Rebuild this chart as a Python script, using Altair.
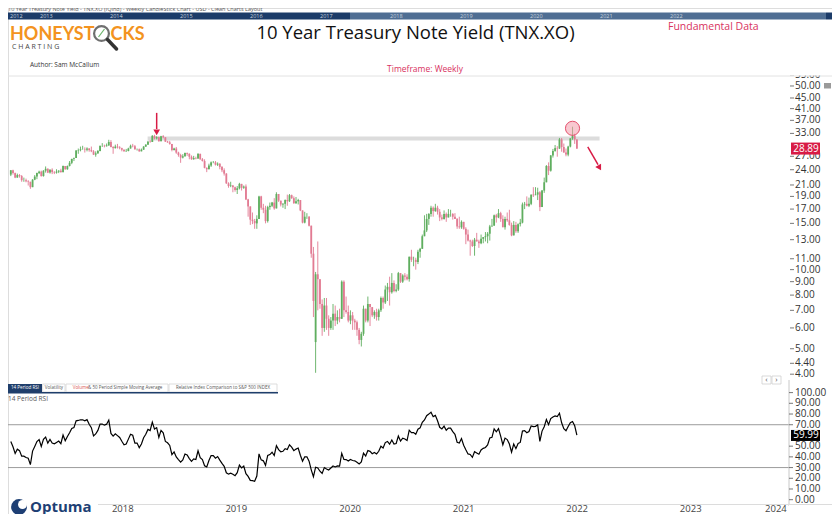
import altair as alt
import numpy as np
import pandas as pd

# ---------------- data: 10 Year Treasury Note Yield (TNX = yield x 10), weekly candles (weeks ending Friday)
first_week = "2017-03-03"

close_2017 = [24.9, 25.8, 25.0, 24.1, 23.9, 23.8, 22.4, 22.4, 22.9, 23.5, 23.3, 22.4, 22.5, 21.6, 22.0, 21.5, 21.4, 23.0,
              23.9, 23.3, 22.4, 22.9, 22.7, 21.9, 21.9, 21.7, 21.6, 20.6, 22.0, 22.6, 23.3, 23.6, 22.7, 23.8, 24.2,
              23.4, 24.0, 23.5, 23.4, 23.6, 23.8, 23.5, 24.8, 24.1]
high_2017 = [25.3, 26.1, 26.2, 25.1, 24.2, 24.1, 23.8, 22.6, 23.5, 23.6, 24.1, 23.4, 22.9, 22.4, 22.1, 22.1, 21.8, 23.2,
             23.9, 24.0, 23.4, 23.2, 23.1, 22.9, 22.4, 22.2, 21.9, 21.3, 22.1, 22.9, 23.4, 23.8, 23.8, 23.9, 24.7,
             24.3, 24.1, 24.3, 23.7, 24.1, 23.9, 24.2, 24.9, 24.8]
low_2017 = [23.5, 24.8, 24.8, 23.9, 23.5, 22.9, 22.3, 21.7, 22.3, 22.7, 23.1, 22.0, 22.3, 21.5, 21.3, 20.9, 21.2, 21.3,
            22.7, 23.0, 22.3, 22.4, 22.4, 21.6, 21.6, 21.5, 20.9, 20.3, 20.7, 21.9, 22.1, 23.1, 22.6, 22.6, 23.4,
            23.3, 23.2, 23.1, 23.1, 23.2, 23.3, 23.4, 23.5, 24.0]

close_2018 = [24.8, 25.5, 26.4, 26.6, 28.4, 28.5, 28.7, 28.7, 28.6, 28.9, 28.5, 28.2, 27.4, 27.7, 28.3, 29.6, 29.6,
              29.5, 29.7, 30.6, 29.3, 29.0, 29.4, 29.2, 29.0, 28.6, 28.2, 28.3, 28.9, 29.6, 29.5, 28.7, 28.7, 28.2,
              28.6, 29.4, 29.9, 30.7, 30.6, 32.3, 31.6, 31.9, 30.8, 32.2, 31.9, 30.7, 30.5, 30.1, 28.5, 28.9, 27.9, 27.3]
high_2018 = [24.9, 25.9, 26.4, 26.7, 28.5, 28.9, 29.4, 29.6, 29.2, 29.2, 29.0, 29.4, 28.5, 28.2, 28.5, 29.6, 30.3,
             29.9, 30.2, 31.2, 31.1, 29.5, 29.9, 30.1, 29.5, 29.1, 28.7, 28.8, 29.1, 29.9, 30.1, 29.8, 28.9, 28.9,
             28.9, 29.5, 30.0, 30.9, 31.1, 32.5, 32.6, 32.2, 32.1, 32.3, 32.5, 31.9, 30.9, 30.9, 30.0, 29.1, 29.3, 28.1]
low_2018 = [24.0, 24.7, 25.2, 25.9, 26.6, 27.6, 28.2, 28.6, 27.9, 28.2, 28.1, 28.0, 27.3, 26.9, 27.6, 28.2, 29.3,
            29.2, 29.4, 29.6, 29.2, 27.6, 28.9, 28.9, 28.7, 28.2, 28.1, 28.1, 28.2, 28.9, 29.2, 28.6, 28.4, 28.1,
            28.3, 28.6, 29.3, 29.9, 30.4, 30.6, 31.3, 31.3, 30.7, 30.8, 31.6, 30.6, 30.4, 29.9, 28.2, 28.4, 27.6, 26.9]

close_2019 = [26.7, 27.0, 27.8, 27.6, 26.9, 26.3, 26.6, 26.5, 27.6, 26.3, 25.9, 24.4, 24.1, 24.9, 25.6, 25.6, 25.1,
              25.3, 24.6, 23.9, 23.2, 21.3, 20.8, 20.9, 20.6, 20.1, 20.4, 21.2, 20.5, 20.7, 18.5, 17.4, 15.5, 15.3,
              15.0, 15.6, 19.0, 17.2, 16.9, 15.3, 17.3, 17.5, 18.0, 17.1, 19.4, 18.3, 17.7, 17.8, 18.4, 18.2, 19.2, 18.7]
high_2019 = [27.6, 27.5, 27.9, 27.9, 27.7, 27.2, 27.1, 26.9, 27.7, 27.5, 26.6, 26.3, 24.5, 25.3, 25.8, 25.9, 25.9,
             25.6, 25.4, 24.8, 24.3, 23.3, 21.5, 21.6, 21.0, 20.7, 20.8, 21.4, 21.2, 20.9, 21.1, 18.6, 17.4, 16.5,
             15.6, 16.1, 19.1, 19.1, 17.8, 17.5, 17.5, 18.0, 18.1, 18.7, 19.7, 19.4, 18.3, 17.9, 18.5, 19.3, 19.4, 19.3]
low_2019 = [25.5, 26.5, 26.9, 27.1, 26.3, 26.2, 26.2, 26.3, 26.4, 26.2, 25.8, 24.3, 23.5, 24.1, 24.6, 25.4, 24.9,
            24.8, 24.1, 23.5, 22.8, 21.2, 20.5, 20.6, 19.7, 19.8, 19.4, 20.2, 20.0, 20.3, 18.4, 15.9, 14.8, 14.9,
            14.3, 14.3, 15.6, 16.9, 16.4, 15.0, 15.1, 16.9, 17.3, 16.9, 17.1, 18.1, 17.4, 17.2, 17.0, 17.5, 18.1, 18.6]

close_2020 = [17.9, 18.2, 18.4, 16.8, 15.1, 15.9, 15.9, 14.7, 11.5, 7.6, 9.6, 9.2, 7.4, 6.0, 7.3, 6.5, 6.0,
              6.4, 6.8, 6.4, 6.6, 6.5, 9.0, 7.0, 6.9, 6.4, 6.7, 6.4, 6.3, 5.9, 5.4, 5.7, 7.1, 6.4, 7.4,
              7.2, 6.7, 6.9, 6.6, 7.0, 7.8, 7.5, 8.4, 8.6, 8.2, 8.9, 8.3, 8.4, 9.7, 9.0, 9.5, 9.4]
high_2020 = [19.0, 18.9, 18.6, 18.3, 16.8, 16.6, 16.4, 16.0, 14.4, 12.2, 9.8, 12.8, 9.0, 7.7, 7.8, 7.8, 6.7,
             6.6, 7.4, 7.3, 7.0, 7.1, 9.1, 9.1, 7.9, 7.3, 7.0, 6.9, 6.5, 6.4, 6.0, 5.8, 7.3, 7.1, 7.9,
             7.3, 7.2, 7.0, 7.1, 7.1, 7.9, 7.9, 8.7, 8.9, 9.4, 9.7, 9.1, 8.8, 9.8, 9.7, 9.6, 9.7]
low_2020 = [17.8, 17.8, 17.7, 16.7, 15.0, 15.0, 15.6, 14.6, 11.1, 6.6, 4.05, 7.0, 7.1, 5.6, 5.8, 5.9, 5.6,
            5.9, 5.9, 6.1, 6.2, 6.3, 6.5, 6.6, 6.8, 6.3, 6.2, 5.9, 5.9, 5.6, 5.2, 5.1, 5.6, 6.3, 6.3,
            6.1, 6.6, 6.5, 6.4, 6.4, 6.9, 7.1, 7.4, 7.6, 7.3, 8.1, 8.2, 8.2, 8.3, 8.9, 8.9, 9.1]

close_2021 = [9.2, 11.2, 10.9, 10.9, 10.7, 11.7, 12.0, 13.4, 14.1, 15.6, 16.3, 17.2, 16.7, 17.2, 16.6, 15.8, 15.6,
              16.3, 15.8, 16.3, 16.3, 15.9, 15.6, 14.6, 14.5, 15.2, 14.3, 13.6, 12.9, 12.8, 12.3, 13.0, 12.8, 12.6,
              13.1, 13.3, 13.4, 13.7, 14.6, 14.7, 16.1, 15.8, 16.4, 15.6, 14.5, 15.6, 15.4, 14.8, 13.5, 14.8, 14.0,
              14.9, 15.1]
high_2021 = [9.6, 11.2, 11.9, 11.2, 11.1, 11.9, 12.1, 13.6, 16.1, 16.3, 16.4, 17.5, 17.4, 17.8, 17.5, 17.0, 16.2,
             16.8, 16.5, 17.0, 16.9, 16.4, 16.4, 15.7, 15.9, 15.4, 15.1, 14.5, 14.2, 13.0, 13.0, 13.2, 13.8, 13.0,
             13.6, 13.3, 13.9, 13.9, 14.8, 15.6, 16.2, 16.3, 17.0, 16.6, 16.1, 15.9, 16.5, 16.9, 15.1, 15.3, 15.2,
             15.0, 15.6]
low_2021 = [9.1, 9.0, 10.7, 10.3, 10.0, 10.5, 11.1, 12.0, 13.4, 13.9, 14.8, 15.9, 15.9, 16.6, 16.2, 15.3, 15.4,
            15.5, 15.2, 15.8, 15.9, 15.5, 15.6, 14.3, 14.3, 14.3, 14.2, 12.5, 12.8, 11.3, 12.2, 11.3, 12.8, 12.1,
            12.5, 12.6, 12.8, 12.6, 12.9, 14.6, 14.7, 15.1, 15.7, 15.2, 14.5, 14.2, 15.2, 14.7, 13.4, 13.7, 13.8,
            13.8, 14.6]

close_2022 = [17.7, 17.8, 17.5, 17.8, 19.3, 19.2, 19.3, 19.7, 17.3, 20.0, 21.5, 24.8, 23.8, 27.2, 28.3, 29.0, 28.9,
              31.3, 29.3, 27.9, 27.4, 29.4, 31.6, 32.3, 31.3, 28.89]
high_2022 = [18.0, 18.1, 19.0, 18.8, 19.3, 20.6, 20.6, 20.5, 19.9, 20.1, 22.4, 25.0, 25.6, 27.3, 28.8, 29.8, 29.5,
             31.7, 31.7, 30.2, 28.9, 29.6, 31.6, 35.0, 32.9, 31.3]
low_2022 = [15.0, 17.0, 17.4, 17.3, 17.6, 18.9, 19.2, 18.4, 16.7, 17.3, 19.6, 21.5, 22.9, 23.6, 26.7, 28.1, 26.9,
            28.8, 28.1, 27.9, 27.0, 27.0, 29.2, 31.2, 30.1, 28.8]

# weekly opens follow the previous close, except gap opens
open_gaps = {"2020-03-13": 5.3}

first_visible_week = "2017-07-07"
rsi_period = 14
rsi_last_label = 59.99

main_ticks = [55, 50, 45, 41, 37, 33, 27, 24, 21, 19, 17, 15, 13, 11, 10, 9, 8, 7, 6, 5, 4.4, 4.0]
rsi_ticks = [100, 90, 80, 70, 50, 40, 30, 20, 10, 0]
rsi_levels = [70, 30]

year_labels = ["2018", "2019", "2020", "2021", "2022", "2023", "2024"]
year_label_dates = ["2018-07-02", "2019-07-02", "2020-07-02", "2021-07-02", "2022-07-02", "2023-07-02", "2024-04-01"]
nav_years = [2013, 2014, 2015, 2016, 2017, 2018, 2019, 2020, 2021, 2022]

resistance = {"start": "2018-09-20", "end": "2022-09-12", "lo": 31.0, "hi": 32.1}
arrow_down = {"d": "2018-10-19", "top": 39.5, "bot": 34.3, "tip": 33.3}
peak_circle = {"d": "2022-06-17", "v": 34.5}
arrow_diag = {"d1": "2022-08-05", "v1": 29.3, "d2": "2022-09-07", "v2": 25.1, "dh": "2022-09-12", "vh": 24.4}

# ---------------- build table
closes = close_2017 + close_2018 + close_2019 + close_2020 + close_2021 + close_2022
highs = high_2017 + high_2018 + high_2019 + high_2020 + high_2021 + high_2022
lows = low_2017 + low_2018 + low_2019 + low_2020 + low_2021 + low_2022
dates = pd.date_range(first_week, periods=len(closes), freq="W-FRI")
df = pd.DataFrame({"date": dates, "close": closes, "high": highs, "low": lows})
df["open"] = df["close"].shift(1).fillna(df["close"])
for d, v in open_gaps.items():
    df.loc[df["date"] == pd.Timestamp(d), "open"] = v
df["high"] = df[["high", "open", "close"]].max(axis=1)
df["low"] = df[["low", "open", "close"]].min(axis=1)
delta = df["close"].diff().fillna(0)
gain = delta.clip(lower=0).ewm(alpha=1 / rsi_period, adjust=False).mean()
loss = (-delta.clip(upper=0)).ewm(alpha=1 / rsi_period, adjust=False).mean()
df["rsi"] = 100 - 100 / (1 + gain / loss.replace(0, np.nan))
df["dir"] = np.where(df["close"] >= df["open"], "up", "down")
vis = df[df["date"] >= pd.Timestamp(first_visible_week)].copy()
vis["date"] = vis["date"].dt.strftime("%Y-%m-%d")

# ---------------- scales (plot coords; page = plot + 8)
def ms(s):
    return int(pd.Timestamp(s).value // 10**6)

XDOM = [ms("2017-06-28"), ms("2024-05-13")]


def xs(field):
    return alt.X(field, type="temporal", scale=alt.Scale(domain=XDOM, range=[0, 781]), axis=None)


def ym(field):
    return alt.Y(field, type="quantitative", scale=alt.Scale(type="log", domain=[4.0, 55.0], range=[366.2, 67.1], nice=False), axis=None)


def yr(field):
    return alt.Y(field, type="quantitative", scale=alt.Scale(domain=[0, 100], range=[491.7, 384.6], nice=False, zero=False), axis=None)


ONE = pd.DataFrame({"k": [0]})
CRIMSON = "#d81b45"
PINKRED = "#d8325e"
NAVY = "#1f3e6b"
UP = "#5fae5f"
DOWN = "#e27b93"
FONT = "Open Sans"


def txt(s, x, y, size, color, align="left", weight="normal", font=FONT):
    return alt.Chart(pd.DataFrame({"t": [s]})).mark_text(
        align=align, baseline="middle", fontSize=size, color=color, fontWeight=weight, font=font
    ).encode(x=alt.value(x), y=alt.value(y), text="t:N")


def box(x1, x2, y1, y2, fill, stroke=None):
    kw = {"fill": fill}
    if stroke:
        kw.update(stroke=stroke, strokeWidth=0.8)
    return alt.Chart(ONE).mark_rect(**kw).encode(x=alt.value(x1), x2=alt.value(x2), y=alt.value(y1), y2=alt.value(y2))


def seg(x1, x2, y1, y2, color, width, cap="butt"):
    return alt.Chart(ONE).mark_rule(color=color, strokeWidth=width, strokeCap=cap).encode(
        x=alt.value(x1), x2=alt.value(x2), y=alt.value(y1), y2=alt.value(y2))


layers = []

# ---- header
layers.append(txt("10 Year Treasury Note Yield - TNX.XO (IQInd) - Weekly CandleStick Chart - USD - Clean Charts Layout",
                  0, 1.3, 5.5, "#555"))
layers.append(box(0, 342, 4.5, 11.5, "#1c3c69"))
layers.append(box(342, 818, 4.5, 11.5, "#4f6e93"))
layers.append(box(818, 824, 4.5, 11.5, "#1c3c69"))
layers.append(txt("2012", 2, 8, 5.5, "#c9d3df"))
layers.append(
    alt.Chart(pd.DataFrame({"y": nav_years})).mark_text(align="left", baseline="middle", fontSize=5.5, color="#c9d3df", font=FONT)
    .encode(x=alt.X("y:Q", scale=alt.Scale(domain=[2013, 2022], range=[32, 662], nice=False, zero=False), axis=None),
            y=alt.value(8), text="y:N")
)

# logo
layers.append(txt("HONEYST", 2, 26.5, 18, "#f39320", weight="bold", font="Lato"))
layers.append(txt("CKS", 102.5, 26.5, 18, "#f39320", weight="bold", font="Lato"))
layers.append(alt.Chart(ONE).mark_point(shape="circle", size=220, filled=False, stroke="#333", strokeWidth=2.2)
              .encode(x=alt.value(93.5), y=alt.value(25.5)))
layers.append(seg(90.5, 96.5, 29, 21, "#6bb36b", 1.2))
layers.append(seg(99.5, 108.5, 31.5, 41, "#333", 3.5, cap="round"))
layers.append(txt("C     H     A     R     T     I     N     G", 4, 38.5, 7, "#444"))

layers.append(txt("10 Year Treasury Note Yield (TNX.XO)", 407.5, 25, 18.5, "#111", align="center"))
layers.append(txt("Fundamental Data", 660, 19, 10.5, PINKRED))
layers.append(txt("Author: Sam McCallum", 22, 56.5, 6.5, "#333"))
layers.append(txt("Timeframe: Weekly", 417, 60.5, 8.5, PINKRED, align="center"))

# ---- main panel
band_df = pd.DataFrame([resistance])
layers.append(alt.Chart(band_df).mark_rect(color="#d6d6d6", opacity=0.85).encode(
    x=xs("start"), x2="end", y=ym("lo"), y2="hi"))

cscale = alt.Scale(domain=["up", "down"], range=[UP, DOWN])
layers.append(alt.Chart(vis).mark_rule(strokeWidth=0.9).encode(
    x=xs("date"), y=ym("low"), y2="high", color=alt.Color("dir:N", scale=cscale, legend=None)))
layers.append(alt.Chart(vis).mark_rule(strokeWidth=1.8).encode(
    x=xs("date"), y=ym("open"), y2="close", color=alt.Color("dir:N", scale=cscale, legend=None)))

# annotations
a1 = pd.DataFrame([arrow_down])
layers.append(alt.Chart(a1).mark_rule(color=CRIMSON, strokeWidth=1.5).encode(x=xs("d"), y=ym("top"), y2="bot"))
layers.append(alt.Chart(a1).mark_point(shape="triangle-down", filled=True, size=45, color=CRIMSON, opacity=1).encode(
    x=xs("d"), y=ym("tip")))
pc = pd.DataFrame([peak_circle])
layers.append(alt.Chart(pc).mark_circle(size=200, fill="#f29aa9", fillOpacity=0.55, stroke="#e0405f", strokeWidth=1,
                                        strokeOpacity=0.9).encode(x=xs("d"), y=ym("v")))
a2 = pd.DataFrame([arrow_diag])
layers.append(alt.Chart(a2).mark_rule(color=CRIMSON, strokeWidth=1.5).encode(x=xs("d1"), x2="d2", y=ym("v1"), y2="v2"))
layers.append(alt.Chart(a2).mark_point(shape="triangle-up", filled=True, size=45, color=CRIMSON, angle=150, opacity=1).encode(
    x=xs("dh"), y=ym("vh")))

# right price axis
mt = pd.DataFrame({"v": main_ticks})
layers.append(alt.Chart(mt).mark_rule(color="#555", strokeWidth=0.8).encode(x=alt.value(782), x2=alt.value(786), y=ym("v")))
layers.append(alt.Chart(mt).mark_text(align="left", baseline="middle", fontSize=10, color="#333", font=FONT).encode(
    x=alt.value(787), y=ym("v"), text=alt.Text("v:Q", format=".2f")))
last = pd.DataFrame({"v": [closes[-1]]})
layers.append(alt.Chart(last).mark_rule(color=CRIMSON, strokeWidth=12).encode(x=alt.value(783), x2=alt.value(812), y=ym("v")))
layers.append(alt.Chart(last).mark_text(align="center", baseline="middle", fontSize=10, color="white", font=FONT).encode(
    x=alt.value(798), y=ym("v"), text=alt.Text("v:Q", format=".2f")))
layers.append(box(781, 824, 50, 67.5, "white"))
layers.append(seg(0, 824, 68, 68, "#e2e2e2", 1))
layers.append(box(816, 823, 75, 80.5, "#9a9a9a"))

# nav buttons
layers.append(box(754, 763, 368, 376, "white", "#cfcfcf"))
layers.append(box(764, 773, 368, 376, "white", "#cfcfcf"))
layers.append(txt("\u2039", 758.5, 371.5, 8, "#555", align="center"))
layers.append(txt("\u203a", 768.5, 371.5, 8, "#555", align="center"))

# tabs
layers.append(box(0, 34, 376, 384, NAVY))
layers.append(txt("14 Period RSI", 17, 380, 4.6, "white", align="center"))
layers.append(box(34.7, 57, 376, 384, "white", "#d4d4d4"))
layers.append(txt("Volatility", 46, 380, 4.6, "#555", align="center"))
layers.append(box(58, 160, 376, 384, "white", "#d4d4d4"))
layers.append(txt("Volume", 64.7, 380, 4.5, "#d9534f"))
layers.append(txt("& 50 Period Simple Moving Average", 80, 380, 4.5, "#555"))
layers.append(box(161, 269, 376, 384, "white", "#d4d4d4"))
layers.append(txt("Relative Index Comparison to S&P 500 INDEX", 215, 380, 4.5, "#555", align="center"))
layers.append(seg(0, 270, 384.8, 384.8, NAVY, 1.6))
layers.append(txt("14 Period RSI", 0, 390.5, 6.5, "#555"))

# ---- RSI panel
lv = pd.DataFrame({"v": rsi_levels})
layers.append(alt.Chart(lv).mark_rule(color="#9c9c9c", strokeWidth=1).encode(x=alt.value(0), x2=alt.value(781), y=yr("v")))
layers.append(alt.Chart(vis).mark_line(color="black", strokeWidth=1.2).encode(x=xs("date"), y=yr("rsi")))
layers.append(seg(781, 781, 372, 498, "#c8c8c8", 1))
rt = pd.DataFrame({"v": rsi_ticks})
layers.append(alt.Chart(rt).mark_rule(color="#555", strokeWidth=0.8).encode(x=alt.value(781), x2=alt.value(785), y=yr("v")))
layers.append(alt.Chart(rt).mark_text(align="left", baseline="middle", fontSize=10, color="#333", font=FONT).encode(
    x=alt.value(787), y=yr("v"), text=alt.Text("v:Q", format=".2f")))
rl = pd.DataFrame({"v": [rsi_last_label]})
layers.append(alt.Chart(rl).mark_rule(color="black", strokeWidth=11).encode(x=alt.value(783), x2=alt.value(812), y=yr("v")))
layers.append(alt.Chart(rl).mark_text(align="center", baseline="middle", fontSize=10, color="white", font=FONT).encode(
    x=alt.value(798), y=yr("v"), text=alt.Text("v:Q", format=".2f")))

# ---- bottom axis
layers.append(box(781, 824, 496.5, 506, "white"))
layers.append(seg(90, 824, 496.5, 496.5, "#dcdcdc", 1))
yl = pd.DataFrame({"d": year_label_dates, "t": year_labels})
layers.append(alt.Chart(yl).mark_text(align="center", baseline="middle", fontSize=9.5, color="#444", font=FONT).encode(
    x=xs("d"), y=alt.value(501), text="t:N"))
layers.append(alt.Chart(ONE).mark_circle(size=250, color="#1e3f74", opacity=1).encode(x=alt.value(11), y=alt.value(499)))
layers.append(alt.Chart(ONE).mark_circle(size=80, color="white", opacity=1).encode(x=alt.value(14.5), y=alt.value(496.5)))
layers.append(txt("Optuma", 22, 498.5, 15, "#1e3f74", weight="bold"))

chart = (
    alt.layer(*layers)
    .resolve_scale(x="independent", y="independent")
    .properties(width=824, height=506, padding=0, autosize=alt.AutoSizeParams(type="none"))
    .configure_view(stroke=None)
    .configure(background="white")
)

chart.save("out.html", embed_options={"renderer": "svg", "actions": False})
